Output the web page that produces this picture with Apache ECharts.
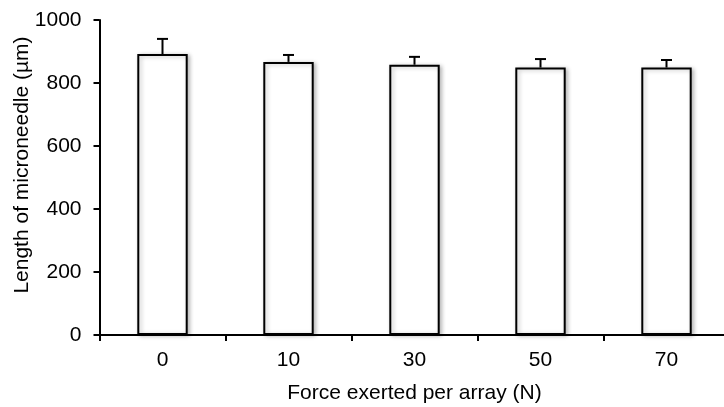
<!DOCTYPE html>
<html>

<head>
    <meta http-equiv="Content-Type" content="text/html; charset=UTF-8">
    <title>Microneedle length vs force</title>
    <style type="text/css">
        * {
            margin: 0;
            padding: 0;
        }

        html,
        body {
            width: 100%;
            height: 100%;
            overflow: hidden;
            background: #fff;
        }

        .container {
            width: 730px;
            height: 407px;
        }
    </style>
</head>

<body>
    <div class="container" id="container"></div>
    <script src="https://cdn.jsdelivr.net/npm/echarts@6/dist/echarts.min.js"></script>
    <script>
        // 数据
        const categories = ['0', '10', '30', '50', '70'];
        const lengths = [892, 867, 858, 849, 849];
        const errors = [48, 22, 25, 27, 24];
        const yTicks = { min: 0, max: 1000, interval: 200 };

        const font = 'Liberation Sans, Arial, sans-serif';
        const container = document.querySelector('#container');
        const chart = echarts.init(container, null, { renderer: 'canvas' });

        // 误差线（只画上半部分）
        const renderError = (params, api) => {
            const i = api.value(0);
            const top = api.coord([i, api.value(1) + api.value(2)]);
            const base = api.coord([i, api.value(1)]);
            const half = 5.5;
            const style = { stroke: '#000', lineWidth: 2 };
            return {
                type: 'group',
                children: [
                    { type: 'line', shape: { x1: base[0], y1: base[1], x2: top[0], y2: top[1] }, style },
                    { type: 'line', shape: { x1: top[0] - half, y1: top[1], x2: top[0] + half, y2: top[1] }, style }
                ]
            };
        }

        chart.setOption({
            backgroundColor: '#fff',
            animation: false,
            grid: {
                left: 99.5,
                top: 20,
                width: 630,
                height: 315,
                containLabel: false,
                outerBoundsMode: 'none'
            },
            xAxis: {
                type: 'category',
                data: categories,
                name: 'Force exerted per array (N)',
                nameLocation: 'middle',
                nameGap: 48,
                nameMoveOverlap: false,
                nameTextStyle: { color: '#000', fontSize: 21, fontFamily: font },
                axisLine: { lineStyle: { color: '#000', width: 2 } },
                axisTick: { show: true, length: 6, alignWithLabel: false, lineStyle: { color: '#000', width: 2 } },
                axisLabel: { color: '#000', fontSize: 21, fontFamily: font, margin: 15 },
                splitLine: { show: false }
            },
            yAxis: {
                type: 'value',
                min: yTicks.min,
                max: yTicks.max,
                interval: yTicks.interval,
                name: 'Length of microneedle (µm)',
                nameLocation: 'middle',
                nameGap: 67,
                nameMoveOverlap: false,
                nameTextStyle: { color: '#000', fontSize: 21, fontFamily: font, padding: [0, 0, 0, 25] },
                axisLine: { show: true, lineStyle: { color: '#000', width: 2 } },
                axisTick: { show: true, length: 6, lineStyle: { color: '#000', width: 2 } },
                axisLabel: { color: '#000', fontSize: 21, fontFamily: font, margin: 18, formatter: v => String(v) },
                splitLine: { show: false }
            },
            series: [
                {
                    type: 'bar',
                    data: lengths,
                    barWidth: '40%',
                    itemStyle: {
                        color: '#fff',
                        borderColor: '#000',
                        borderWidth: 2,
                        shadowColor: 'rgba(0,0,0,0.25)',
                        shadowBlur: 4,
                        shadowOffsetX: 2,
                        shadowOffsetY: 1
                    }
                },
                {
                    type: 'custom',
                    renderItem: renderError,
                    data: lengths.map((v, i) => [i, v, errors[i]]),
                    encode: { x: 0, y: [1, 2] },
                    z: 3
                }
            ]
        });
    </script>
</body>

</html>
